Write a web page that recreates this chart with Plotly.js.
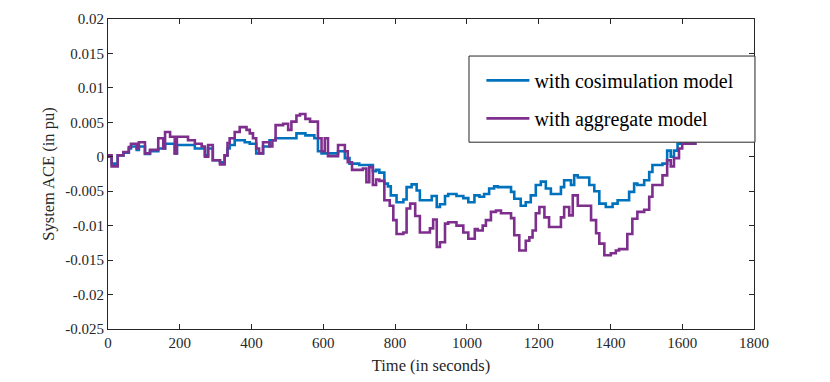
<!DOCTYPE html>
<html>
<head>
<meta charset="utf-8">
<script src="https://cdn.plot.ly/plotly-3.0.1.min.js"></script>
<style>
  html, body { margin: 0; padding: 0; background: #fff; }
  #chart { width: 830px; height: 382px; }
</style>
</head>
<body>
<div id="chart"></div>
<script>
// step data (time in s, ACE in pu)
const timeCosim = [0, 10, 27, 43, 58, 64, 80, 86, 103, 117, 140, 159, 186, 192, 242, 270, 279, 292, 312, 325,
  333, 339, 353, 381, 395, 413, 432, 450, 467, 525, 550, 575, 585, 595, 641, 660, 673, 700, 720, 738,
  747, 756, 770, 780, 788, 804, 823, 832, 846, 860, 869, 902, 916, 925, 939, 948, 971, 990, 1004, 1021,
  1035, 1048, 1062, 1076, 1086, 1123, 1132, 1150, 1164, 1178, 1192, 1206, 1220, 1234, 1262, 1271, 1290, 1299, 1309, 1341,
  1355, 1369, 1387, 1406, 1420, 1452, 1466, 1475, 1494, 1508, 1517, 1545, 1558, 1568, 1577, 1587, 1596, 1610, 1640];
const aceCosim = [0, -0.001, 0.0002, 0.0006, 0.0012, 0.0015, 0.001, 0.0015, 0.0004, 0.0008, 0.0012, 0.0019, 0.0005, 0.0017, 0.0012, 0.0002, 0.0012, -0.0005, -0.0008, 0.0002,
  0.0012, 0.0017, 0.0024, 0.0021, 0.0019, 0.0005, 0.0015, 0.0024, 0.0027, 0.0034, 0.0031, 0.0027, 0.0008, 0.0005, 0.0008, -0.0002, -0.001, -0.0012, -0.0012, -0.0021,
  -0.0019, -0.0023, -0.0039, -0.0043, -0.0056, -0.0066, -0.0062, -0.0044, -0.004, -0.0049, -0.0063, -0.0057, -0.0073, -0.0069, -0.0057, -0.0054, -0.0057, -0.006, -0.0066, -0.0056,
  -0.0058, -0.0054, -0.0046, -0.0043, -0.0044, -0.0051, -0.0061, -0.0071, -0.0066, -0.0056, -0.0041, -0.0036, -0.0046, -0.0054, -0.0044, -0.0034, -0.0041, -0.0027, -0.003, -0.0041,
  -0.005, -0.0068, -0.0073, -0.0068, -0.0063, -0.0051, -0.0039, -0.0041, -0.0034, -0.0022, -0.0012, -0.001, 0.0009, 0, 0.0009, 0.0019, 0.0024, 0.0019, 0.0019];

const timeAggregate = [0, 3, 10, 27, 43, 58, 64, 80, 86, 103, 117, 140, 154, 159, 173, 186, 192, 223, 242, 261,
  270, 279, 292, 312, 325, 333, 339, 353, 367, 386, 395, 404, 413, 421, 432, 450, 458, 467, 488, 502,
  511, 525, 535, 550, 563, 585, 595, 604, 613, 641, 660, 668, 680, 710, 720, 728, 738, 747, 756, 770,
  785, 795, 804, 823, 832, 842, 856, 869, 897, 906, 916, 925, 939, 948, 971, 990, 1004, 1022, 1030, 1044,
  1053, 1067, 1081, 1095, 1123, 1132, 1146, 1164, 1174, 1183, 1192, 1202, 1216, 1229, 1262, 1271, 1285, 1295, 1309, 1346,
  1360, 1369, 1383, 1401, 1415, 1424, 1447, 1461, 1475, 1494, 1508, 1517, 1545, 1558, 1568, 1577, 1591, 1600, 1640];
const aceAggregate = [0, 0.0002, -0.0014, 0.0002, 0.0007, 0.0014, 0.0019, 0.0012, 0.0021, 0.0005, 0.001, 0.0027, 0.0012, 0.0036, 0.0029, 0.0005, 0.0029, 0.0024, 0.0019, 0.0015,
  0, 0.0017, -0.0005, -0.0011, 0.0002, 0.002, 0.0027, 0.0036, 0.0043, 0.0039, 0.0034, 0.0027, 0.0012, 0.0005, 0.0021, 0.0015, 0.0024, 0.0046, 0.0048, 0.0039,
  0.0051, 0.006, 0.0062, 0.0055, 0.0051, 0.0027, 0.0008, 0.0027, 0.0001, 0.0017, 0.0008, -0.0008, -0.0019, -0.0017, -0.0037, -0.0015, -0.0041, -0.0033, -0.0035, -0.0063,
  -0.0071, -0.0092, -0.0112, -0.011, -0.0075, -0.0068, -0.0086, -0.011, -0.0104, -0.0091, -0.0131, -0.0124, -0.0097, -0.0095, -0.01, -0.011, -0.0119, -0.0105, -0.0107, -0.01,
  -0.0092, -0.008, -0.0078, -0.0082, -0.0089, -0.0114, -0.0136, -0.0122, -0.0117, -0.0107, -0.0082, -0.0073, -0.0088, -0.0102, -0.0088, -0.0073, -0.0085, -0.0056, -0.0071, -0.0092,
  -0.0111, -0.0126, -0.0143, -0.014, -0.0136, -0.0134, -0.0112, -0.009, -0.008, -0.0077, -0.0058, -0.0041, -0.0027, -0.0005, -0.0014, -0.0002, 0.0012, 0.0019, 0.0019];

const yTickVals = [0.02, 0.015, 0.01, 0.005, 0, -0.005, -0.01, -0.015, -0.02, -0.025];
const yTickText = ['0.02', '0.015', '0.01', '0.005', '0', '-0.005', '-0.01', '-0.015', '-0.02', '-0.025'];

const axisColor = '#262626';
const serif = 'Liberation Serif';

const traces = [
  {
    x: timeCosim, y: aceCosim, type: 'scatter', mode: 'lines',
    name: 'with cosimulation model', legendgroup: 'a',
    line: { color: '#0072BD', width: 2.6, shape: 'hv' }
  },
  {
    x: timeAggregate, y: aceAggregate, type: 'scatter', mode: 'lines',
    name: 'with aggregate model', legendgroup: 'b',
    line: { color: '#7E2F8E', width: 2.6, shape: 'hv' }
  }
];

const layout = {
  width: 830,
  height: 382,
  margin: { l: 108, r: 76, t: 19, b: 53 },
  paper_bgcolor: '#fff',
  plot_bgcolor: '#fff',
  font: { family: serif, color: axisColor, size: 15 },
  showlegend: true,
  // legend frame (MATLAB style box, wider than plotly's own legend box)
  shapes: [{
    type: 'rect', xref: 'paper', yref: 'paper', layer: 'above',
    x0: 0.5588, x1: 1.0015, y0: 0.6026, y1: 0.8805,
    fillcolor: '#fff', line: { color: axisColor, width: 1 }
  }],
  legend: {
    x: 0.578, y: 0.865, xanchor: 'left', yanchor: 'top',
    bgcolor: 'rgba(0,0,0,0)', borderwidth: 0,
    font: { family: serif, size: 20, color: '#000' },
    traceorder: 'grouped', tracegroupgap: 9,
    itemwidth: 43
  },
  xaxis: {
    range: [0, 1800], dtick: 200, tick0: 0,
    ticks: 'inside', ticklen: 5, tickcolor: axisColor,
    showline: true, linecolor: axisColor, linewidth: 1, mirror: 'ticks',
    showgrid: false, zeroline: false,
    tickfont: { family: serif, size: 15 },
    title: { text: 'Time (in seconds)', font: { family: serif, size: 16.5 }, standoff: 9 }
  },
  yaxis: {
    range: [-0.025, 0.02],
    tickvals: yTickVals, ticktext: yTickText,
    ticks: 'inside', ticklen: 5, tickcolor: axisColor,
    showline: true, linecolor: axisColor, linewidth: 1, mirror: 'ticks',
    showgrid: false, zeroline: false,
    tickfont: { family: serif, size: 15 },
    title: { text: 'System ACE (in pu)', font: { family: serif, size: 16.5 }, standoff: 6 }
  }
};

Plotly.newPlot('chart', traces, layout, { displayModeBar: false, staticPlot: true });
</script>
</body>
</html>
